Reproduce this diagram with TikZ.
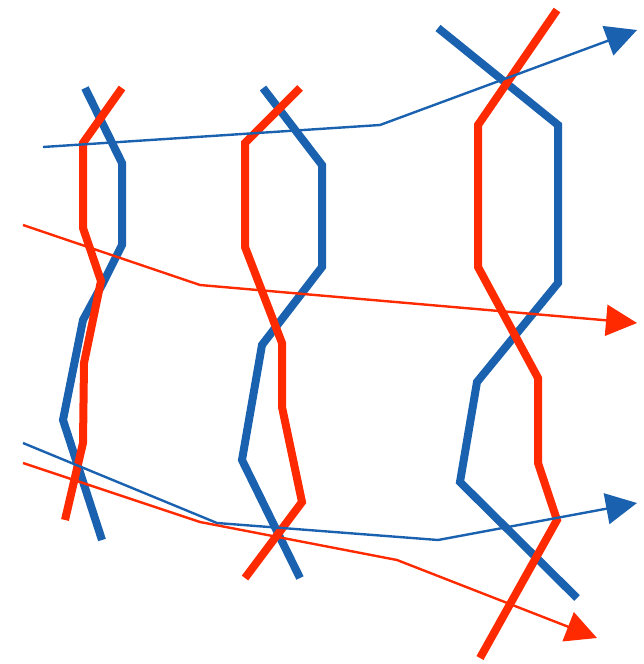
\documentclass[tikz,border=0pt]{standalone}
\usepackage{xcolor}
\usepackage{tikz}
\usetikzlibrary{arrows.meta}
\definecolor{strandblue}{HTML}{1A62B0}
\definecolor{strandred}{HTML}{FF2A00}

\begin{document}
\begin{tikzpicture}[x=1pt,y=-1pt,>={Triangle[length=31pt,width=31pt]},
    thickstrand/.style={line width=8pt,miter limit=2},
    thinpath/.style={line width=2.4pt}]
        \useasboundingbox (0,0) rectangle (643,664);
        % thick strands, left column
        \draw[thickstrand,strandblue] (85,88) -- (122,163) -- (122,245) -- (103,283) -- (83,320) -- (63,420) -- (102,540);
        \draw[thickstrand,strandred] (122,88) -- (83,143) -- (83,228) -- (101,281) -- (84,363) -- (83,443) -- (65,520);
        % middle column
        \draw[thickstrand,strandblue] (263,88) -- (322,165) -- (322,267) -- (262,345) -- (242,460) -- (300,578);
        \draw[thickstrand,strandred] (300,88) -- (245,143) -- (245,247) -- (282,343) -- (282,407) -- (302,502) -- (245,578);
        % right column
        \draw[thickstrand,strandblue] (438,28) -- (558,125) -- (558,283) -- (477,382) -- (460,482) -- (577,598);
        \draw[thickstrand,strandred] (557,10) -- (478,125) -- (478,267) -- (538,378) -- (538,463) -- (557,520) -- (480,658);
        % thin paths
        \draw[thinpath,strandblue,->] (43,147) -- (380,125) -- (637,30);
        \draw[thinpath,strandred,->] (23,225) -- (200,285) -- (637,323);
        \draw[thinpath,strandblue,->] (23,443) -- (217,523) -- (438,540) -- (637,503);
        \draw[thinpath,strandred,->] (23,463) -- (200,522) -- (397,560) -- (597,638);
\end{tikzpicture}
\end{document}
